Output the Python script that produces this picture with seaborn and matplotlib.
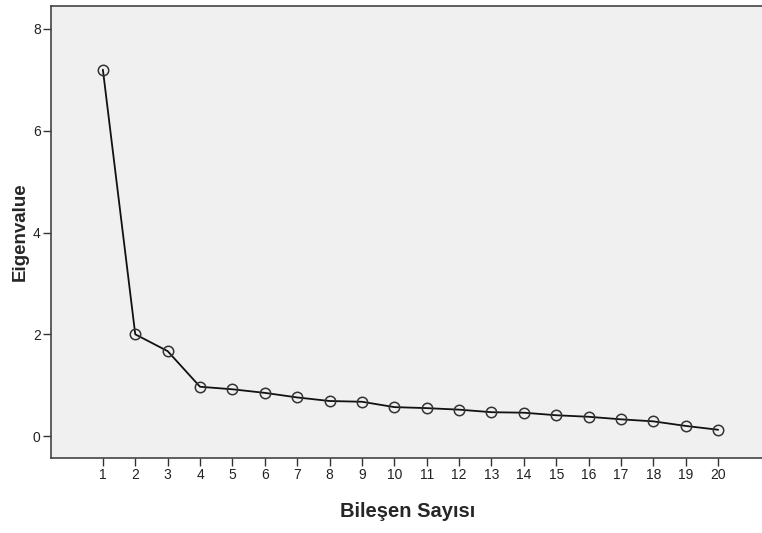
import numpy as np
import pandas as pd
import matplotlib
matplotlib.use("Agg")
import matplotlib.pyplot as plt
import seaborn as sns

# Scree plot values
components = list(range(1, 21))
eigenvalues = [7.20, 2.00, 1.67, 0.97, 0.92, 0.85, 0.76, 0.69, 0.675, 0.57,
               0.55, 0.52, 0.47, 0.46, 0.41, 0.38, 0.33, 0.29, 0.20, 0.125]

df = pd.DataFrame({'Bileşen Sayısı': components, 'Eigenvalue': eigenvalues})

sns.set_style('ticks')
plt.rcParams['font.family'] = ['Liberation Sans', 'DejaVu Sans']

fig = plt.figure(figsize=(7.62, 5.33), dpi=100)
ax = fig.add_axes([0.067, 0.1407, 0.935, 0.848])
ax.set_facecolor('#f0f0f0')

sns.lineplot(data=df, x='Bileşen Sayısı', y='Eigenvalue', ax=ax,
             color='#111111', linewidth=1.3, marker='o', markersize=7.5,
             markerfacecolor='none', markeredgecolor='#333333',
             markeredgewidth=1.1)

ax.set_xlim(-0.6, 21.4)
ax.set_ylim(-0.43, 8.45)
ax.set_xticks(components)
ax.set_yticks([0, 2, 4, 6, 8])

ax.set_xlabel('Bileşen Sayısı', fontsize=14.5, fontweight='bold', labelpad=14)
ax.set_ylabel('Eigenvalue', fontsize=13.5, fontweight='bold', labelpad=3)

ax.tick_params(axis='both', labelsize=10, length=5.5, width=1.0,
               color='#333333', labelcolor='#222222', pad=2)

for side in ['left', 'bottom', 'top']:
    ax.spines[side].set_color('#444444')
    ax.spines[side].set_linewidth(1.2)
ax.spines['right'].set_visible(False)

fig.savefig('out.png', dpi=100)
